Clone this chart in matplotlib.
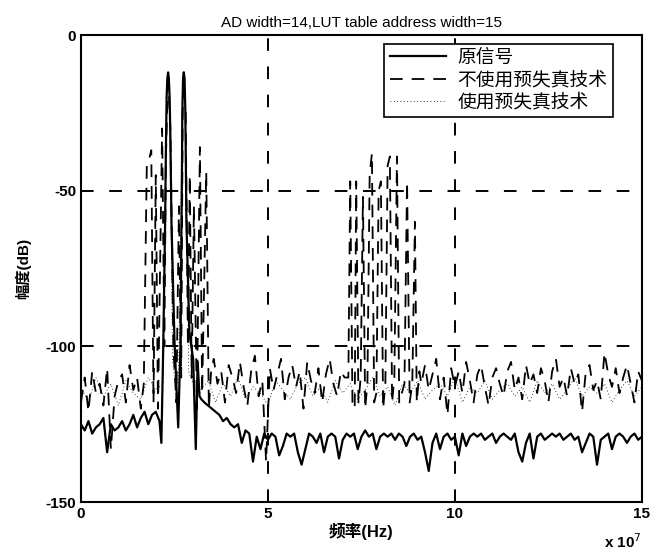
import numpy as np
import matplotlib
matplotlib.use("Agg")
import matplotlib.pyplot as plt

plt.rcParams['font.family'] = ['Liberation Sans', 'Noto Sans CJK SC', 'DejaVu Sans']
plt.rcParams['axes.unicode_minus'] = False

TITLE = "AD width=14,LUT table address width=15"
LEGEND = ["原信号", "不使用预失真技术", "使用预失真技术"]
XTICKS = [0, 5, 10, 15]          # x 10^7 Hz
YTICKS = [-150, -100, -50, 0]

# ---- 原信号 (solid), frequency in units of 1e7 Hz ----
sig_low = [-125, -127, -124, -128, -126, -125, -123, -134, -125, -127, -126, -124,
           -127, -125, -122, -126, -123, -121, -125, -122, -121]
sig_tone_f = [2.10, 2.15, 2.20, 2.25, 2.27, 2.29, 2.31, 2.33, 2.35, 2.37, 2.39, 2.42,
              2.50, 2.60, 2.66, 2.70, 2.71, 2.73, 2.75, 2.77, 2.79, 2.82, 2.90, 3.00,
              3.07, 3.12, 3.17, 3.22]
sig_tone = [-124, -131, -100, -60, -38, -20, -14, -12, -14, -20, -32, -60,
            -98, -126, -100, -45, -25, -14, -12, -14, -24, -60, -96, -104,
            -133, -105, -116, -117]
sig_high = [-118, -119, -120, -121, -122, -124, -123, -125, -126, -125, -131, -127,
            -128, -137, -129, -133, -128, -130, -128, -129, -135, -132, -128, -129,
            -128, -134, -138, -133, -128, -129, -131, -128, -134, -129, -128, -129,
            -136, -130, -128, -129, -128, -133, -129, -127, -129, -128, -133, -129,
            -128, -129, -128, -130, -128, -129, -132, -129, -128, -130, -129, -134,
            -140, -131, -128, -133, -129, -128, -130, -129, -135, -128, -132, -129,
            -128, -129, -128, -130, -129, -128, -131, -129, -128, -129, -130, -128,
            -134, -137, -131, -128, -136, -129, -128, -130, -129, -128, -129, -128,
            -130, -129, -128, -130, -129, -134, -131, -128, -129, -138, -130, -129,
            -128, -133, -129, -128, -129, -131, -129, -128, -130, -129]

# ---- 不使用预失真技术 (dashed) ----
nopd_a = [-118, -110, -121, -108, -115, -112, -119, -107, -133, -116, -111, -109,
          -118, -106, -114, -110, -120]
nopd_c1_f = [1.68, 1.76, 1.82, 1.88, 1.94, 2.00, 2.06, 2.17, 2.23, 2.27, 2.33, 2.39,
             2.47, 2.55, 2.62, 2.68, 2.72, 2.75, 2.80, 2.86, 2.91, 2.96, 3.02, 3.10,
             3.18, 3.24, 3.35, 3.42, 3.48]
nopd_c1 = [-112, -42, -40, -37, -118, -45, -120, -30, -100, -40, -12, -30,
           -100, -118, -55, -110, -25, -12, -25, -100, -45, -110, -55, -120,
           -36, -115, -44, -120, -108]
nopd_b = [-104, -112, -108, -118, -106, -110, -115, -105, -113, -119, -108, -103,
          -116, -111, -137, -107, -114, -109, -104, -117, -110, -106, -113, -108,
          -120, -105, -111, -115, -107, -118, -109, -104, -112, -116, -108, -110]
nopd_c2_f = [7.15, 7.20, 7.26, 7.32, 7.36, 7.42, 7.48, 7.54, 7.60, 7.66, 7.72, 7.78,
             7.84, 7.90, 7.96, 8.02, 8.08, 8.14, 8.20, 8.26, 8.32, 8.38, 8.45, 8.51,
             8.58, 8.65, 8.72, 8.79, 8.86, 8.93, 8.98, 9.05, 9.10]
nopd_c2 = [-110, -47, -118, -120, -47, -118, -110, -52, -120, -112, -45, -38,
           -118, -115, -50, -47, -120, -112, -42, -39, -118, -110, -39, -118,
           -115, -112, -47, -118, -112, -60, -118, -108, -112]
nopd_d = [-106, -114, -109, -104, -117, -110, -122, -107, -113, -108, -115, -105,
          -111, -118, -109, -106, -113, -119, -110, -107, -112, -116, -108, -105,
          -114, -110, -117, -106, -112, -109, -115, -107, -111, -118, -108, -104,
          -113, -110, -116, -107, -112, -109, -121, -108, -106, -114, -111, -117,
          -102, -109, -113, -107, -115, -110, -106, -112, -118, -108, -111]

# ---- 使用预失真技术 (dotted) ----
pd_a = [-113, -118, -110, -116, -112, -119, -111, -115, -117, -110, -114]
pd_tone_f = [2.20, 2.29, 2.33, 2.37, 2.45, 2.60, 2.71, 2.75, 2.79, 2.88, 3.00, 3.15]
pd_tone = [-112, -20, -12, -20, -105, -118, -20, -12, -20, -108, -112, -116]
pd_b = [-114, -111, -118, -112, -116, -110, -117, -113, -115, -119, -111, -114,
        -117, -112, -110, -116, -113, -118, -111, -115, -112, -117, -114, -110,
        -116, -113, -119, -112, -115, -111, -117, -114, -112, -116, -110, -118,
        -113, -115, -111, -117, -114, -112, -116, -113, -118, -111, -115, -112,
        -117, -114, -110, -116, -113, -115, -112, -118, -114, -111, -116, -113]


def grid_f(start, vals, step):
    return start + step * np.arange(len(vals))


sig_f = np.concatenate([grid_f(0.0, sig_low, 0.1), sig_tone_f, grid_f(3.3, sig_high, 0.1)])
sig_v = np.concatenate([sig_low, sig_tone, sig_high])

nopd_f = np.concatenate([grid_f(0.0, nopd_a, 0.1), nopd_c1_f, grid_f(3.55, nopd_b, 0.1),
                         nopd_c2_f, grid_f(9.2, nopd_d, 0.1)])
nopd_v = np.concatenate([nopd_a, nopd_c1, nopd_b, nopd_c2, nopd_d])

pd_f = np.concatenate([grid_f(0.0, pd_a, 0.2), pd_tone_f, grid_f(3.2, pd_b, 0.2)])
pd_v = np.concatenate([pd_a, pd_tone, pd_b])

fig = plt.figure(figsize=(6.53, 5.56), dpi=100)
ax = fig.add_axes([0.124, 0.097, 0.859, 0.840])

ax.plot(sig_f * 1e7, sig_v, color='black', lw=1.6, label=LEGEND[0])
ax.plot(nopd_f * 1e7, nopd_v, color='black', lw=1.3, linestyle=(0, (7, 5)), label=LEGEND[1])
ax.plot(pd_f * 1e7, pd_v, color='black', lw=0.6, linestyle=(0, (1, 3)), label=LEGEND[2])

ax.set_xlim(0, 15e7)
ax.set_ylim(-150, 0)
ax.set_xticks([t * 1e7 for t in XTICKS])
ax.set_xticklabels([str(t) for t in XTICKS])
ax.set_yticks(YTICKS)
ax.tick_params(direction='in', length=5, labelsize=11, width=1.2)
for lab in ax.get_xticklabels() + ax.get_yticklabels():
    lab.set_fontweight('bold')
for s in ax.spines.values():
    s.set_linewidth(1.5)

for gx in [5e7, 10e7]:
    ax.axvline(gx, color='black', lw=1.4, linestyle=(0, (6.5, 8)))
for gy in [-50, -100]:
    ax.axhline(gy, color='black', lw=1.4, linestyle=(0, (6.5, 8)))

ax.set_title(TITLE, fontsize=11, pad=6)
ax.set_xlabel("频率(Hz)", fontsize=12, fontweight='bold', labelpad=1)
ax.set_ylabel("幅度(dB)", fontsize=11, fontweight='bold', labelpad=10)
fig.text(0.925, 0.015, r"x 10$^7$", fontsize=11, fontweight='bold')

leg = ax.legend(loc='upper right', bbox_to_anchor=(0.948, 0.981), fontsize=13.5,
                frameon=True, fancybox=False, edgecolor='black', handlelength=3.0,
                borderpad=0.3, labelspacing=0.25, handletextpad=0.6, borderaxespad=0)
leg.get_frame().set_linewidth(1.2)
leg.get_frame().set_alpha(1)

fig.savefig("out.png", dpi=100)
